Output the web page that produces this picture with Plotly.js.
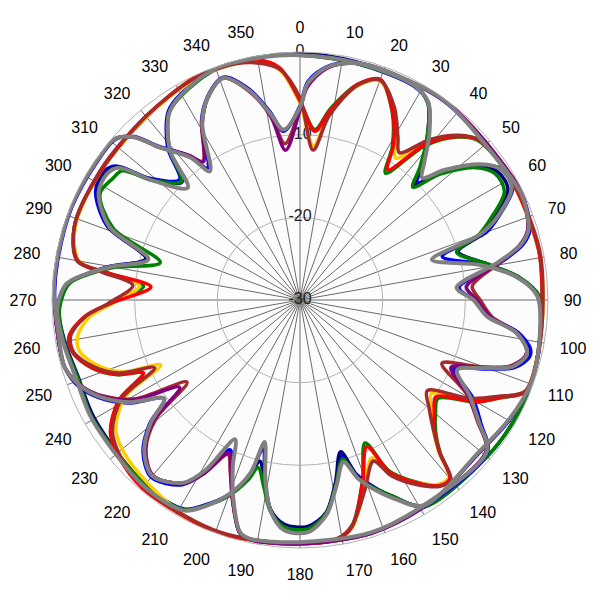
<!DOCTYPE html>
<html>
<head>
<meta charset="utf-8">
<script src="https://cdn.plot.ly/plotly-3.0.1.min.js"></script>
<style>html,body{margin:0;padding:0;background:#fff;}#chart{width:600px;height:600px;}</style>
</head>
<body>
<div id="chart"></div>
<script>
// Angle tick labels
const angleTicks = [0,10,20,30,40,50,60,70,80,90,100,110,120,130,140,150,160,170,180,190,200,210,220,230,240,250,260,270,280,290,300,310,320,330,340,350];
const angleLabels = angleTicks.map(String);
const radialTicks = [-30, -20, -10, 0];
const radialLabels = radialTicks.map(String);
const radialLabelAngle = [0, 0, 0, 0];

// Family A (navy / green / blue / gray)
const thetaA = [0,14,28,33,38,42,45,48,53,57,62,67,70,73,79,84,89,100,110,120,130,149,155,159,162,165,169,173,178,184,188,191,194,196,200,205,209,220,240,251,260,268,274,277,280,285,291,298,303,306,309,315,319,325,330,340,352,360];
const navyR = [-0.1,-0.4,-0.6,-1.6,-5.0,-8.0,-10.3,-7.0,-3.0,-1.5,-1.5,-4.5,-6.5,-10.0,-7.0,-3.4,-1.1,-0.5,-0.3,-0.3,-0.5,-0.9,-3.9,-5.8,-7.6,-11.0,-7.5,-4.1,-2.6,-2.8,-4.4,-7.5,-9.9,-7.8,-4.8,-2.5,-1.0,-0.8,-1.3,-1.6,-1.1,-0.8,-1.9,-4.1,-6.7,-10.7,-5.2,-2.2,-1.8,-2.6,-6.8,-9.8,-5.9,-2.3,-1.3,-0.2,0,-0.1];
const greenAR = [-0.4,-0.6,-0.6,-1.6,-5.0,-8.3,-10.7,-7.3,-3.4,-1.9,-2.0,-5.0,-7.0,-10.2,-7.0,-3.4,-1.1,-0.6,-0.3,-0.3,-0.5,-0.8,-3.9,-5.8,-7.4,-10.1,-7.2,-4.0,-2.3,-2.5,-4.2,-7.0,-9.1,-7.4,-4.8,-2.5,-1.0,-0.9,-1.1,-1.5,-1.0,-0.9,-2.0,-4.3,-7.2,-12.5,-5.8,-2.6,-3.0,-3.4,-7.0,-9.7,-6.0,-2.4,-1.4,-0.3,-0.2,-0.4];
const blueAR = [-0.3,-0.6,-0.7,-1.5,-4.8,-7.8,-9.9,-6.8,-2.8,-0.9,-0.8,-3.8,-6.0,-12.0,-7.5,-3.6,-1.2,-0.6,-0.3,-0.8,-1.5,-1.0,-3.8,-6.0,-7.8,-10.5,-7.4,-4.0,-2.0,-2.2,-4.4,-7.8,-11.5,-8.0,-5.0,-2.6,-1.1,-0.7,-1.2,-1.5,-1.0,-0.7,-1.8,-4.0,-6.6,-10.7,-5.0,-2.0,-1.6,-2.4,-6.6,-9.4,-5.6,-2.2,-1.2,-0.3,-0.2,-0.3];
const grayAR = [-0.4,-0.5,-0.6,-1.5,-4.6,-7.5,-9.1,-6.5,-2.7,-1.0,-1.0,-4.0,-6.8,-13.3,-7.8,-3.6,-1.3,-0.6,-0.3,-0.9,-1.6,-1.0,-3.6,-5.6,-7.3,-9.7,-7.0,-3.8,-1.9,-2.1,-4.3,-8.0,-12.3,-8.2,-5.0,-2.4,-0.9,-0.6,-1.0,-1.3,-0.9,-0.6,-1.7,-4.0,-6.8,-11.0,-5.3,-2.4,-2.1,-2.8,-7.0,-10.8,-6.0,-2.4,-1.3,-0.2,-0.3,-0.4];

// Family B (red / yellow / brown / green)
const thetaB = [0,5,9,15,20,26,31,34,39,44,48,60,78,90,102,112,116,120,125.5,130,134,137.5,140,143,147.5,152.5,155.5,161,167,171,180,188,199,208,220,229,235,241,245,248,252,257,261,265.5,269,275,278,280,288,303,320,335,345,350,355,360];
const redR = [-5.9,-9.5,-6.8,-3.0,-1.6,-4.5,-8.0,-11.0,-5.7,-2.5,-1.0,-0.6,-0.5,-0.7,-0.5,-0.5,-3.1,-5.4,-9.8,-8.8,-7.4,-5.0,-1.8,-1.9,-3.8,-6.5,-10.5,-6.7,-1.9,-0.7,-0.5,-0.5,-0.1,-0.3,-0.3,-1.0,-2.0,-4.9,-9.1,-6.0,-3.5,-1.8,-1.7,-3.8,-7.1,-11.9,-6.5,-2.7,-1.3,-1.3,-1.0,-0.2,-0.2,-0.5,-1.8,-5.9];
const yellowR = [-6.2,-11.3,-7.2,-3.2,-1.8,-4.3,-7.6,-9.3,-5.2,-2.4,-1.0,-0.6,-0.5,-0.6,-0.5,-0.6,-3.2,-5.8,-10.5,-9.2,-7.6,-5.2,-2.0,-2.1,-3.8,-6.2,-9.0,-6.0,-1.8,-0.7,-0.5,-0.4,-0.2,-0.4,-1.2,-1.8,-2.8,-5.8,-11.4,-6.8,-4.3,-2.6,-2.8,-4.5,-7.3,-10.5,-6.0,-2.8,-1.4,-1.3,-1.1,-0.4,-0.4,-0.7,-2.1,-6.2];
const brownBR = [-5.6,-11.8,-7.4,-3.1,-1.7,-4.0,-7.0,-8.5,-5.0,-2.3,-1.0,-0.5,-0.4,-0.6,-0.5,-0.6,-3.4,-6.2,-11.1,-9.6,-7.6,-5.0,-1.6,-1.8,-3.5,-6.0,-8.6,-5.8,-2.0,-0.8,-0.6,-0.5,-0.3,-0.4,-0.5,-1.2,-2.3,-5.3,-10.6,-6.4,-3.8,-1.9,-1.9,-3.9,-6.8,-9.7,-5.8,-2.6,-1.3,-1.2,-1.0,-0.3,-0.4,-0.9,-2.0,-5.6];
const greenBR = [-6.0,-9.3,-6.6,-3.0,-1.7,-4.6,-8.3,-11.5,-6.0,-2.6,-1.1,-0.6,-0.5,-0.7,-0.5,-0.5,-3.0,-5.3,-9.5,-8.6,-7.2,-4.9,-1.8,-1.9,-3.9,-6.7,-11.0,-6.8,-2.0,-0.8,-0.6,-0.5,-0.2,-0.4,-0.4,-1.1,-2.1,-5.0,-9.0,-5.9,-3.5,-1.8,-1.8,-3.9,-7.2,-11.0,-6.6,-2.8,-1.3,-1.3,-1.1,-0.3,-0.3,-0.6,-1.9,-6.0];

// Family C (gray / blue / purple / brown)
const thetaC = [0,2,6.5,12,17,35,48,64,68,73,76,79.5,85.5,90,95,98.5,102,104,107.5,110.5,114,119.5,124.5,129,149,163,180,192,194.5,198.5,202,205,209,212.5,220,226,230.5,234,239,244,248.5,254,262,272,279,292,304,311,314.5,317.5,322.5,325,331,335.5,341,346.5,351,354.5,360];
const grayCR = [-6.7,-3.8,-1.7,-0.7,-0.4,-0.2,-0.7,-0.3,-0.5,-1.1,-2.5,-5.9,-11.0,-9.0,-7.3,-3.6,-2.0,-1.8,-3.1,-6.5,-9.2,-6.4,-3.7,-0.9,-1.0,-0.6,-0.7,-0.5,-1.0,-4.6,-8.3,-11.4,-6.5,-3.8,-2.2,-3.8,-6.6,-9.7,-6.0,-3.2,-1.5,-0.4,-0.5,-0.2,-0.2,-0.1,-0.2,-0.3,-1.9,-5.0,-8.3,-11.0,-5.6,-3.1,-1.6,-4.0,-7.2,-9.3,-6.7];
const blueCR = [-6.5,-3.6,-1.6,-0.6,-0.4,-0.3,-0.6,-0.3,-0.4,-0.9,-2.2,-5.4,-10.7,-9.0,-7.0,-3.3,-1.5,-1.4,-2.8,-6.2,-9.6,-6.0,-3.4,-0.8,-0.8,-0.5,-0.6,-0.4,-0.9,-4.4,-7.8,-10.0,-6.0,-3.5,-2.0,-3.6,-6.4,-9.7,-5.8,-3.0,-1.3,-0.4,-0.4,-0.3,-0.3,-0.2,-0.3,-0.4,-1.8,-4.8,-8.0,-10.5,-5.4,-3.0,-1.5,-3.8,-7.0,-9.5,-6.5];
const purpleR = [-7.0,-4.2,-1.8,-0.7,-0.4,-0.2,-0.5,-0.2,-0.5,-1.2,-2.6,-5.6,-9.8,-8.6,-6.9,-3.6,-2.0,-1.9,-3.3,-6.7,-10.0,-6.6,-3.8,-1.0,-0.9,-0.5,-0.5,-0.4,-0.9,-4.4,-7.6,-9.6,-6.0,-3.7,-2.3,-4.0,-7.0,-12.0,-6.5,-3.4,-1.6,-0.4,-0.4,-0.2,-0.1,-0.1,-0.2,-0.3,-1.9,-5.0,-8.0,-9.6,-5.6,-3.1,-1.6,-4.1,-7.6,-11.8,-7.0];
const brownCR = [-6.8,-4.0,-1.8,-0.7,-0.4,-0.2,-0.5,-0.2,-0.5,-1.2,-2.6,-5.5,-9.1,-8.2,-6.7,-3.6,-2.0,-1.9,-3.4,-7.0,-11.2,-6.8,-3.9,-1.0,-0.9,-0.5,-0.5,-0.4,-0.9,-4.3,-7.5,-9.4,-6.0,-3.7,-2.3,-4.1,-7.4,-13.1,-6.8,-3.5,-1.6,-0.4,-0.4,-0.2,-0.1,-0.1,-0.2,-0.3,-1.9,-5.0,-8.0,-9.5,-5.5,-3.1,-1.6,-4.1,-7.4,-11.0,-6.8];

const series = [
  {t: thetaB, r: greenBR, c: '#008000', w: 3.5},
  {t: thetaA, r: blueAR,  c: '#0000ff', w: 3.5},
  {t: thetaA, r: navyR,   c: '#000080', w: 3.5},
  {t: thetaA, r: greenAR, c: '#008000', w: 3.5},
  {t: thetaC, r: blueCR,  c: '#0000ff', w: 3.5},
  {t: thetaB, r: yellowR, c: '#ffcc00', w: 3.5},
  {t: thetaB, r: redR,    c: '#ff0000', w: 3.5},
  {t: thetaB, r: brownBR, c: '#a52a2a', w: 3.5},
  {t: thetaC, r: brownCR, c: '#a52a2a', w: 3.5},
  {t: thetaC, r: purpleR, c: '#800080', w: 3.5},
  {t: thetaA, r: grayAR,  c: '#808080', w: 4},
  {t: thetaC, r: grayCR,  c: '#808080', w: 4}
];

const labelTrace = {
  type: 'scatterpolar', mode: 'text',
  r: radialTicks, theta: radialLabelAngle, text: radialLabels,
  textposition: 'middle center',
  textfont: {family: 'Liberation Sans, Arial, sans-serif', size: 16, color: '#222'},
  hoverinfo: 'skip', showlegend: false, cliponaxis: false
};

const traces = [labelTrace].concat(series.map(s => ({
  type: 'scatterpolar', mode: 'lines', theta: s.t, r: s.r,
  line: {color: s.c, width: s.w, shape: 'spline', smoothing: 0.9},
  hoverinfo: 'skip', showlegend: false
})));

const layout = {
  width: 600, height: 600,
  margin: {l: 52, r: 52, t: 52, b: 52},
  paper_bgcolor: '#ffffff',
  showlegend: false,
  font: {family: 'Liberation Sans, Arial, sans-serif', color: '#000'},
  polar: {
    bgcolor: '#fcfcfc',
    domain: {x: [0, 1], y: [0, 1]},
    angularaxis: {
      rotation: 90, direction: 'clockwise',
      tickmode: 'array', tickvals: angleTicks, ticktext: angleLabels,
      showgrid: true, gridcolor: '#6a6a6a', gridwidth: 1,
      showline: true, linecolor: '#b0b0b0', linewidth: 1,
      ticks: 'outside', ticklen: 12, tickcolor: 'rgba(0,0,0,0)',
      tickfont: {size: 16, color: '#000'}
    },
    radialaxis: {
      range: [-30, 0], tickmode: 'array', tickvals: radialTicks,
      angle: 90, showline: false, ticks: '', showticklabels: false,
      showgrid: true, gridcolor: '#b4b4b4', gridwidth: 1
    }
  }
};

Plotly.newPlot('chart', traces, layout, {staticPlot: true, displayModeBar: false});
</script>
</body>
</html>
